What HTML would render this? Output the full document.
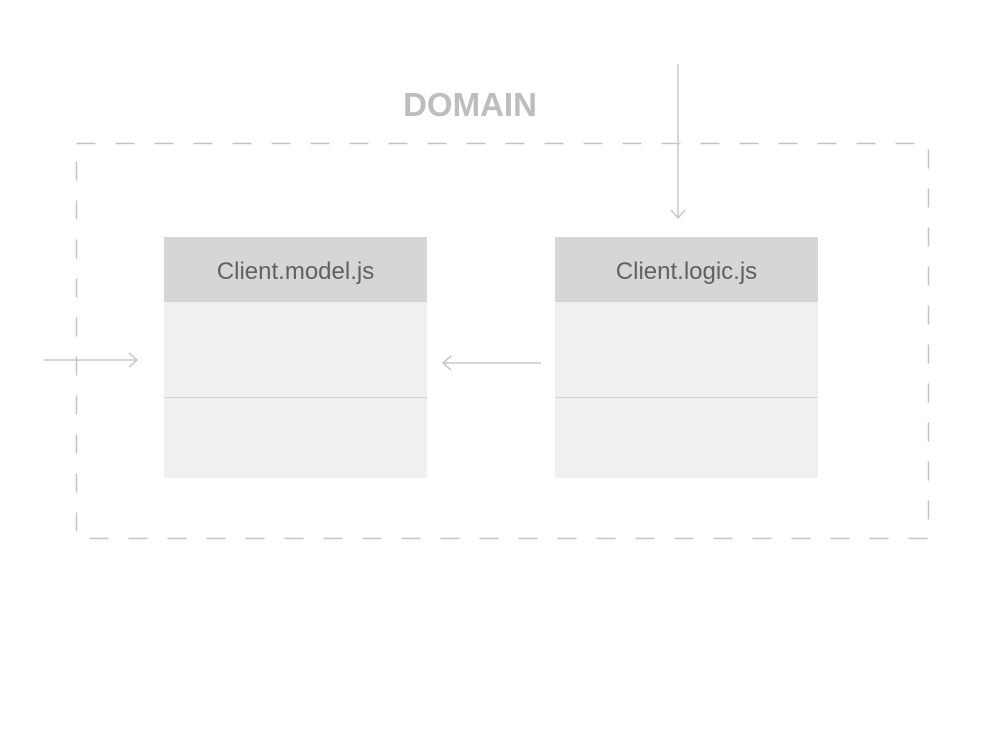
<!DOCTYPE html>
<html><head><style>
body{margin:0;width:1000px;height:750px;background:#fff;overflow:hidden;font-family:"Liberation Sans",sans-serif}
</style></head><body>
<svg width="1000" height="750" xmlns="http://www.w3.org/2000/svg">
<text x="470" y="116" text-anchor="middle" font-family="Liberation Sans, sans-serif" font-size="33" font-weight="bold" fill="#bdbdbd">DOMAIN</text>
<rect x="76.5" y="143.5" width="852" height="395" fill="none" stroke="#c4c4c4" stroke-width="1.5" stroke-dasharray="19 20"/>
<g font-family="Liberation Sans, sans-serif">
<rect x="164" y="237" width="263" height="241" fill="#f0f0f0"/>
<rect x="164" y="237" width="263" height="65" fill="#d6d6d6"/>
<line x1="164" y1="397.5" x2="427" y2="397.5" stroke="#d4d4d4"/>
<text x="295.5" y="279" text-anchor="middle" font-size="24" fill="#616161">Client.model.js</text>
</g>
<g font-family="Liberation Sans, sans-serif">
<rect x="555" y="237" width="263" height="241" fill="#f0f0f0"/>
<rect x="555" y="237" width="263" height="65" fill="#d6d6d6"/>
<line x1="555" y1="397.5" x2="818" y2="397.5" stroke="#d4d4d4"/>
<text x="686.5" y="279" text-anchor="middle" font-size="24" fill="#616161">Client.logic.js</text>
</g>
<g stroke="#c8c8c8" stroke-width="1.5" fill="none">
<line x1="44" y1="360" x2="137" y2="360"/><polyline points="129,353 137,360 129,367"/>
<line x1="443" y1="363" x2="541" y2="363"/><polyline points="451,356 443,363 451,370"/>
<line x1="678" y1="64" x2="678" y2="218"/><polyline points="671,210 678,218 685,210"/>
</g>
</svg>
</body></html>
